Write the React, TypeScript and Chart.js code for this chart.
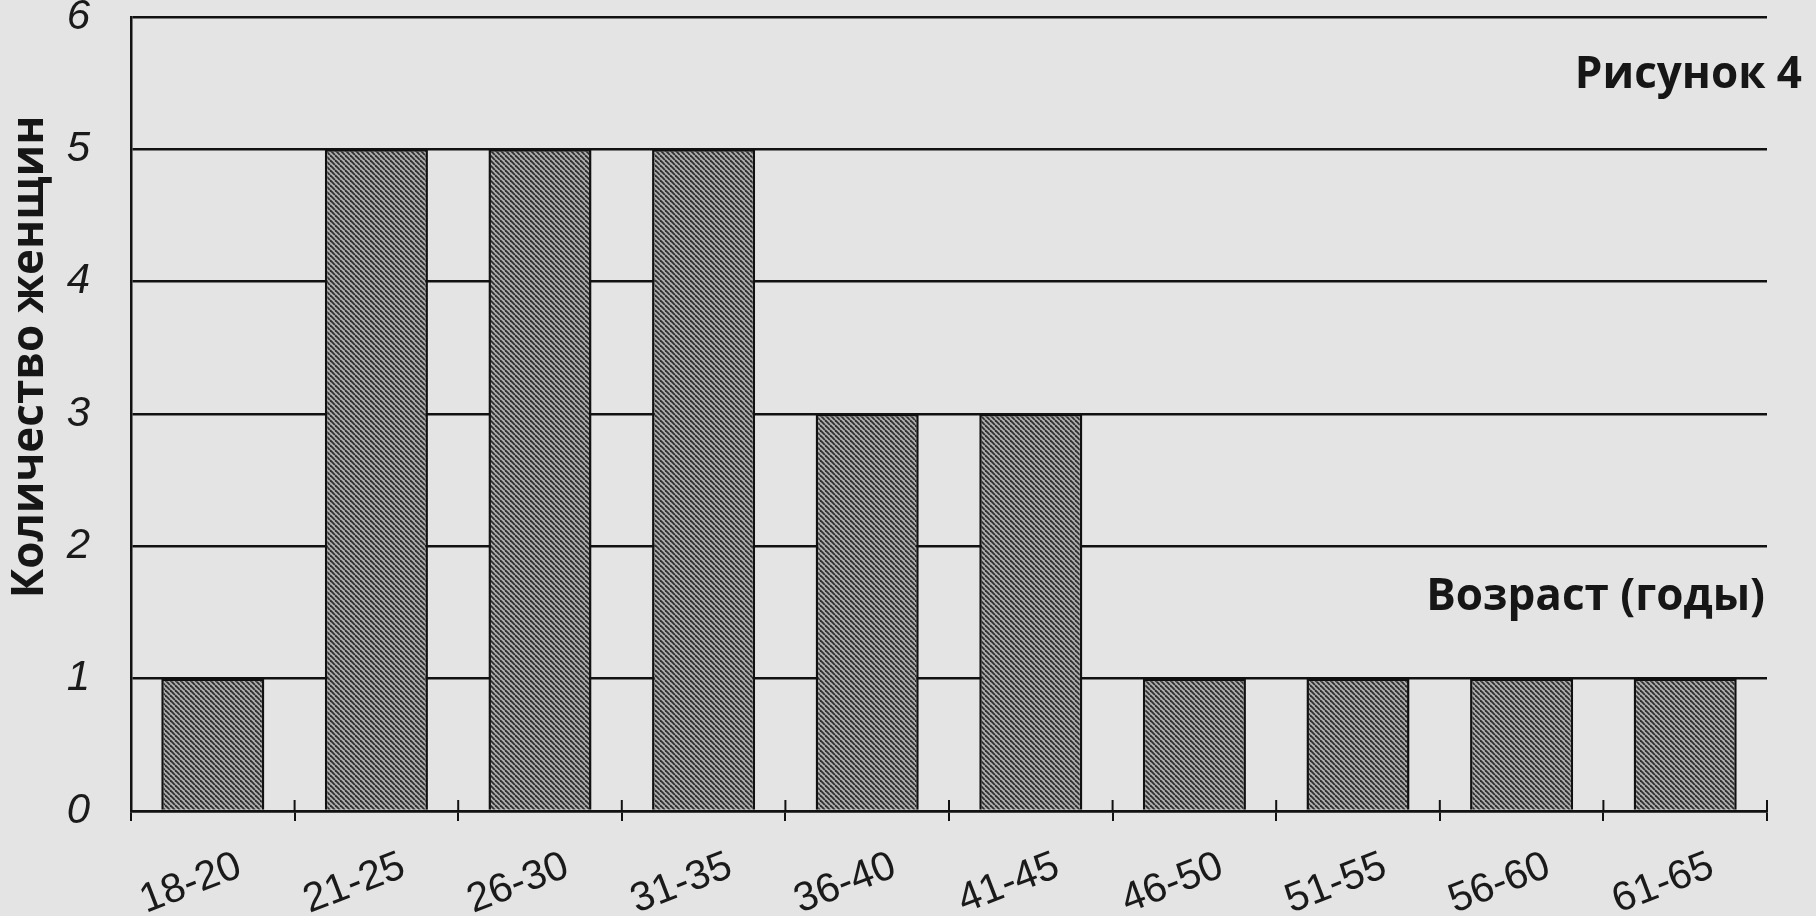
import React, { useEffect, useRef } from "react";
import { Chart, registerables } from "chart.js";

Chart.register(...registerables);

const ageGroups = ["18-20", "21-25", "26-30", "31-35", "36-40", "41-45", "46-50", "51-55", "56-60", "61-65"];
const womenCounts = [1, 5, 5, 5, 3, 3, 1, 1, 1, 1];
const yTicksMin = 0;
const yTicksMax = 6;
const yTicksStep = 1;
const yTitleText = "Количество женщин";
const figureText = "Рисунок 4";
const xTitleText = "Возраст (годы)";

function makeHatch(): CanvasPattern | string {
  const p = 5;
  const c = document.createElement("canvas");
  c.width = p;
  c.height = p;
  const g = c.getContext("2d");
  if (!g) return "#8a8a8a";
  g.fillStyle = "#aeaeae";
  g.fillRect(0, 0, p, p);
  g.strokeStyle = "#2e2e2e";
  g.lineWidth = 1.8;
  for (const k of [-p, 0, p]) {
    g.beginPath();
    g.moveTo(k, 0);
    g.lineTo(k + p, p);
    g.stroke();
  }
  const pat = g.createPattern(c, "repeat");
  return pat || "#8a8a8a";
}

const annotationPlugin = {
  id: "annotationText",
  afterDraw(chart: any) {
    const ctx = chart.ctx as CanvasRenderingContext2D;
    const xs = chart.scales.x;
    const area = chart.chartArea;
    ctx.save();
    // inner half of the x-axis tick marks (crossing the axis)
    ctx.strokeStyle = "#111111";
    ctx.lineWidth = 2;
    for (let i = 1; i <= ageGroups.length; i++) {
      const px = xs.getPixelForValue(i - 0.5);
      ctx.beginPath();
      ctx.moveTo(px, area.bottom);
      ctx.lineTo(px, area.bottom - 11);
      ctx.stroke();
    }
    ctx.fillStyle = "#161616";
    ctx.font = "700 44px 'Open Sans', 'Noto Sans', sans-serif";
    ctx.textBaseline = "alphabetic";
    // y-axis title, rotated
    ctx.save();
    ctx.translate(43, 357);
    ctx.rotate(-Math.PI / 2);
    ctx.textAlign = "center";
    ctx.fillText(yTitleText, 0, 0);
    ctx.restore();
    // figure label
    ctx.textAlign = "right";
    ctx.fillText(figureText, 1802, 88);
    // x-axis title
    ctx.fillText(xTitleText, 1765, 610);
    ctx.restore();
  },
};

export default function App() {
  const canvasRef = useRef<HTMLCanvasElement | null>(null);

  useEffect(() => {
    const canvas = canvasRef.current;
    if (!canvas) return;
    const hatch = makeHatch();
    const chart = new Chart(canvas, {
      type: "bar",
      data: {
        labels: ageGroups,
        datasets: [
          {
            data: womenCounts,
            backgroundColor: hatch as any,
            borderColor: "#111111",
            borderWidth: 2.5,
            barPercentage: 0.63,
            categoryPercentage: 1,
          },
        ],
      },
      options: {
        animation: false,
        responsive: false,
        devicePixelRatio: 1,
        layout: { padding: { left: 0, right: 49, top: 0, bottom: 0 } },
        plugins: {
          legend: { display: false },
          tooltip: { enabled: false },
          title: { display: false },
        },
        scales: {
          x: {
            grid: {
              display: true,
              drawOnChartArea: false,
              offset: true,
              color: "#111111",
              lineWidth: 2,
              tickLength: 10,
            },
            border: { display: true, color: "#111111", width: 2.5 },
            ticks: {
              autoSkip: false,
              color: "#1a1a1a",
              font: { family: "'Liberation Sans', Arial, sans-serif", size: 41, lineHeight: 1.2 },
              minRotation: 21,
              maxRotation: 21,
              labelOffset: 27,
              padding: 21,
            },
            afterFit(scale: any) {
              scale.height = 105;
              scale.paddingLeft = 0;
              scale.paddingRight = 0;
            },
          },
          y: {
            min: yTicksMin,
            max: yTicksMax,
            grid: { color: "#111111", lineWidth: 2.5, drawTicks: false },
            border: { display: true, color: "#111111", width: 2.5 },
            ticks: {
              stepSize: yTicksStep,
              padding: 41,
              color: "#1a1a1a",
              font: { family: "'Liberation Sans', Arial, sans-serif", size: 42, style: "italic", lineHeight: 1 },
            },
            afterFit(scale: any) {
              scale.width = 131;
              scale.paddingTop = 17;
              scale.paddingBottom = 0;
            },
          },
        },
      },
      plugins: [annotationPlugin],
    });
    return () => {
      chart.destroy();
    };
  }, []);

  return (
    <div
      style={{
        position: "fixed",
        left: 0,
        top: 0,
        width: 1816,
        height: 916,
        background: "#e4e4e4",
        overflow: "hidden",
      }}
    >
      <canvas ref={canvasRef} width={1816} height={916} style={{ display: "block" }} />
    </div>
  );
}
